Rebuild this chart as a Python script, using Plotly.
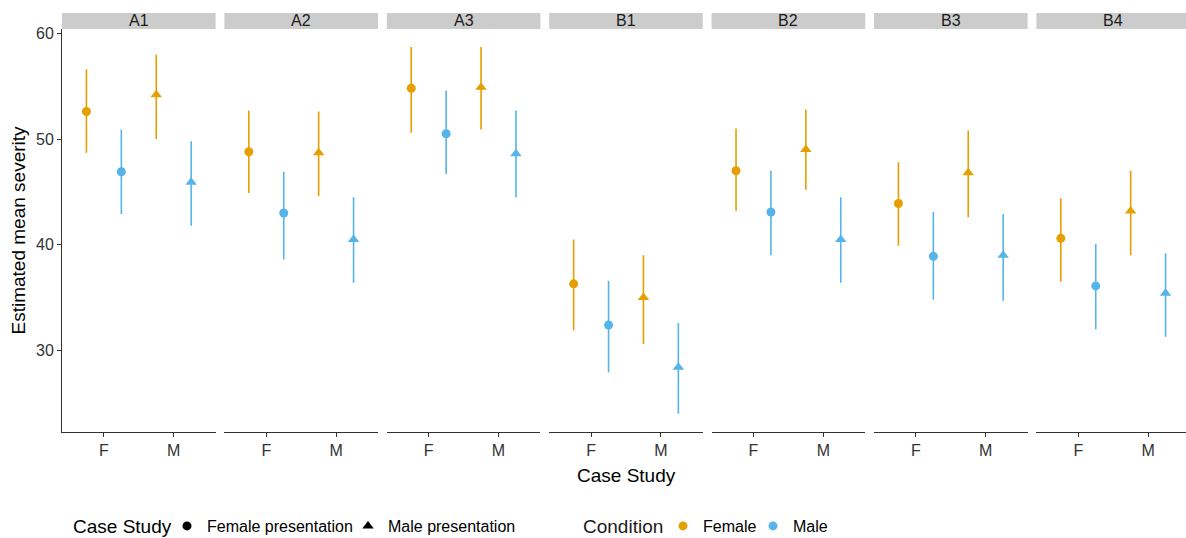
import plotly.graph_objects as go

W, H = 1186, 538

# ---------------- data ----------------
panels = ["A1", "A2", "A3", "B1", "B2", "B3", "B4"]
case_levels = ["F", "M"]
conditions = ["Female", "Male"]
case_legend = ["Female presentation", "Male presentation"]
y_ticks = [30, 40, 50, 60]

# Condition = Female, case study F
fem_F_est = [52.6, 48.8, 54.8, 36.3, 47.0, 43.9, 40.6]
fem_F_lo = [48.7, 44.9, 50.6, 31.9, 43.2, 39.9, 36.5]
fem_F_hi = [56.6, 52.7, 58.7, 40.5, 51.0, 47.8, 44.4]
# Condition = Male, case study F
male_F_est = [46.9, 43.0, 50.5, 32.4, 43.1, 38.9, 36.1]
male_F_lo = [42.9, 38.6, 46.7, 27.9, 39.0, 34.8, 32.0]
male_F_hi = [50.9, 46.9, 54.6, 36.6, 47.0, 43.1, 40.1]
# Condition = Female, case study M
fem_M_est = [54.2, 48.7, 54.9, 35.0, 49.0, 46.8, 43.2]
fem_M_lo = [50.0, 44.6, 50.9, 30.6, 45.2, 42.6, 39.0]
fem_M_hi = [58.0, 52.6, 58.7, 39.0, 52.8, 50.8, 47.0]
# Condition = Male, case study M
male_M_est = [45.9, 40.5, 48.6, 28.4, 40.5, 39.0, 35.4]
male_M_lo = [41.8, 36.4, 44.5, 24.0, 36.4, 34.7, 31.3]
male_M_hi = [49.8, 44.5, 52.7, 32.6, 44.5, 42.9, 39.2]

# ---------------- style ----------------
COLORS = {"Female": "#E69F00", "Male": "#56B4E9"}
SYMBOLS = {"F": "circle", "M": "triangle-up"}
SIZES = {"F": 9, "M": 10}
DODGE = {"Female": -0.25, "Male": 0.25}
FONT = "Liberation Sans, Arial, sans-serif"
AXIS_COL = "#333333"
TICK_COL = "#333333"

panel_left0 = 62.0
panel_step = 162.4
panel_w = 153.6
x_lo, x_hi = 0.4, 2.6
px_per_unit = panel_w / (x_hi - x_lo)
top_px, bot_px = 29.0, 432.0
y_range = [22.28, 60.41]
strip_top, strip_bot = 13.0, 29.0
legend_y_px = 526

series = {
    ("Female", "F"): (fem_F_est, fem_F_lo, fem_F_hi),
    ("Male", "F"): (male_F_est, male_F_lo, male_F_hi),
    ("Female", "M"): (fem_M_est, fem_M_lo, fem_M_hi),
    ("Male", "M"): (male_M_est, male_M_lo, male_M_hi),
}

fig = go.Figure()
shapes = []
annotations = []
layout_axes = {}

for i, p in enumerate(panels):
    n = "" if i == 0 else str(i + 1)
    left = panel_left0 + i * panel_step
    right = left + panel_w
    right_c = min(right, W)
    xr_hi = x_lo + (right_c - left) / px_per_unit
    layout_axes["xaxis" + n] = dict(
        domain=[left / W, right_c / W],
        range=[x_lo, xr_hi],
        anchor="y" + n,
        tickvals=[1, 2],
        ticktext=case_levels,
        showline=True, linecolor=AXIS_COL, linewidth=1,
        ticks="outside", ticklen=4, tickwidth=1, tickcolor=AXIS_COL,
        showgrid=False, zeroline=False, fixedrange=True,
        tickfont=dict(size=16, color=TICK_COL, family=FONT),
    )
    ycfg = dict(
        domain=[1 - bot_px / H, 1 - top_px / H],
        range=y_range,
        anchor="x" + n,
        showgrid=False, zeroline=False, fixedrange=True,
    )
    if i == 0:
        ycfg.update(
            tickvals=y_ticks,
            showline=True, linecolor=AXIS_COL, linewidth=1,
            ticks="outside", ticklen=4, tickwidth=1, tickcolor=AXIS_COL,
            tickfont=dict(size=16, color=TICK_COL, family=FONT),
        )
    else:
        ycfg.update(showticklabels=False, showline=False, ticks="")
    layout_axes["yaxis" + n] = ycfg

    # strip
    shapes.append(dict(type="rect", xref="paper", yref="paper",
                       x0=left / W, x1=right_c / W,
                       y0=1 - strip_bot / H, y1=1 - strip_top / H,
                       fillcolor="#CCCCCC", line=dict(width=0), layer="below"))
    annotations.append(dict(text=p, xref="paper", yref="paper",
                            x=(left + right) / 2 / W, y=1 - (strip_top + strip_bot) / 2 / H,
                            xanchor="center", yanchor="middle", showarrow=False,
                            font=dict(size=16, color="#1A1A1A", family=FONT)))

    for ci, cs in enumerate(case_levels):
        for cond in conditions:
            est, lo, hi = series[(cond, cs)]
            fig.add_trace(go.Scatter(
                x=[ci + 1 + DODGE[cond]], y=[est[i]],
                xaxis="x" + n, yaxis="y" + n,
                mode="markers",
                marker=dict(color=COLORS[cond], symbol=SYMBOLS[cs], size=SIZES[cs],
                            line=dict(width=0)),
                error_y=dict(type="data", symmetric=False,
                             array=[hi[i] - est[i]], arrayminus=[est[i] - lo[i]],
                             width=0, thickness=1.6, color=COLORS[cond]),
                showlegend=False, hoverinfo="skip",
            ))

# legend dummies: Case Study
for k, (cs, lab) in enumerate(zip(case_levels, case_legend)):
    fig.add_trace(go.Scatter(
        x=[None], y=[None], mode="markers",
        marker=dict(color="black", symbol=SYMBOLS[cs], size=SIZES[cs]),
        name=lab, legend="legend", showlegend=True,
        legendwidth=136 if k == 0 else None,
    ))
# legend dummies: Condition
for k, cond in enumerate(conditions):
    fig.add_trace(go.Scatter(
        x=[None], y=[None], mode="markers",
        marker=dict(color=COLORS[cond], symbol="circle", size=9),
        name=cond, legend="legend2", showlegend=True,
        legendwidth=45 if k == 0 else None,
    ))

# axis titles
annotations.append(dict(text="Estimated mean severity", xref="paper", yref="paper",
                        x=18 / W, y=1 - (top_px + bot_px) / 2 / H, textangle=-90,
                        xanchor="center", yanchor="middle", showarrow=False,
                        font=dict(size=19, color="black", family=FONT)))
annotations.append(dict(text="Case Study", xref="paper", yref="paper",
                        x=626 / W, y=1 - 475 / H,
                        xanchor="center", yanchor="middle", showarrow=False,
                        font=dict(size=19, color="black", family=FONT)))
# legend titles
annotations.append(dict(text="Case Study", xref="paper", yref="paper",
                        x=71 / W, y=1 - (legend_y_px) / H,
                        xanchor="left", yanchor="middle", showarrow=False,
                        font=dict(size=19, color="black", family=FONT)))
annotations.append(dict(text="Condition", xref="paper", yref="paper",
                        x=581 / W, y=1 - (legend_y_px) / H,
                        xanchor="left", yanchor="middle", showarrow=False,
                        font=dict(size=19, color="#1A1A1A", family=FONT)))

fig.update_layout(
    width=W, height=H,
    margin=dict(l=0, r=0, t=0, b=0, autoexpand=False),
    paper_bgcolor="white", plot_bgcolor="white",
    font=dict(family=FONT, color="black"),
    shapes=shapes, annotations=annotations,
    legend=dict(orientation="h", x=167 / W, xanchor="left", xref="container",
                y=1 - legend_y_px / H, yanchor="middle", yref="container",
                font=dict(size=16, color="black"), bgcolor="rgba(0,0,0,0)", itemwidth=30),
    legend2=dict(orientation="h", x=663 / W, xanchor="left", xref="container",
                 y=1 - legend_y_px / H, yanchor="middle", yref="container",
                 font=dict(size=16, color="black"), bgcolor="rgba(0,0,0,0)", itemwidth=30),
    **layout_axes,
)

fig.write_html("out.html")
